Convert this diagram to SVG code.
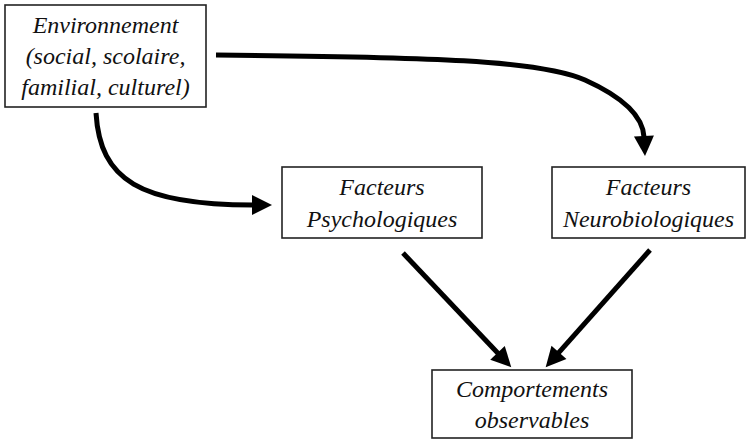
<svg xmlns="http://www.w3.org/2000/svg" width="750" height="442" viewBox="0 0 750 442">
<style>
.box{fill:#fff;stroke:#222;stroke-width:1.6}
.t{font-family:"Liberation Serif","Times New Roman",serif;font-style:italic;font-size:24px;fill:#111;text-anchor:middle}
.c{fill:none;stroke:#000;stroke-width:5}
</style>
<defs>
<marker id="ah" markerUnits="userSpaceOnUse" markerWidth="24" markerHeight="22" refX="1" refY="10" orient="auto" overflow="visible">
<path d="M0,0 L20,10 L0,20 Z" fill="#000"/>
</marker>
</defs>
<rect width="750" height="442" fill="#fff"/>
<g id="connectors">
<path class="c" d="M216,55 C 430,57 540,60 585,80 C 625,98 643,118 644,137" marker-end="url(#ah)"/>
<path class="c" d="M96,113 C 100,180 140,205 253,205" marker-end="url(#ah)"/>
<path class="c" d="M403,253 L498.2,353.5" marker-end="url(#ah)"/>
<path class="c" d="M650,250 L558.3,353.1" marker-end="url(#ah)"/>
</g>
<g id="env">
<rect class="box" x="5" y="5" width="201" height="102"/>
<text class="t" x="105.5" y="33">Environnement</text>
<text class="t" x="105.5" y="64">(social, scolaire,</text>
<text class="t" x="105.5" y="95">familial, culturel)</text>
</g>
<g id="psy">
<rect class="box" x="282" y="167" width="200" height="71"/>
<text class="t" x="382" y="195">Facteurs</text>
<text class="t" x="382" y="227">Psychologiques</text>
</g>
<g id="neuro">
<rect class="box" x="552" y="167" width="193" height="71"/>
<text class="t" x="648.5" y="195">Facteurs</text>
<text class="t" x="648.5" y="227">Neurobiologiques</text>
</g>
<g id="comp">
<rect class="box" x="432" y="370" width="200" height="68"/>
<text class="t" x="532" y="397">Comportements</text>
<text class="t" x="532" y="428">observables</text>
</g>
</svg>
